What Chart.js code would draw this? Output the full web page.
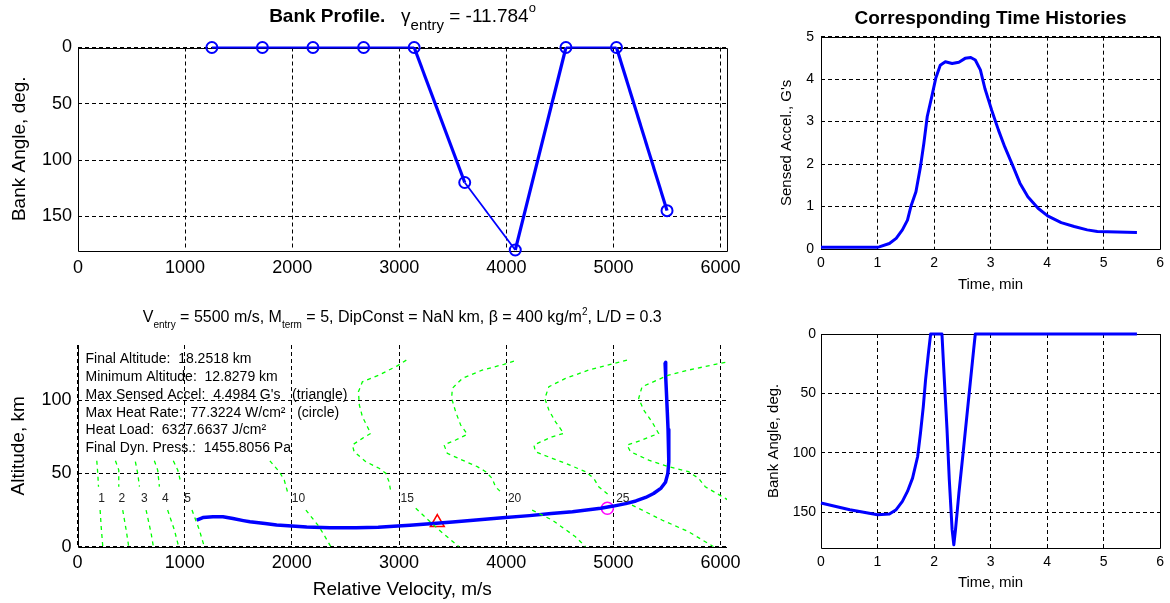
<!DOCTYPE html>
<html>
<head>
<meta charset="utf-8">
<title>Bank Profile</title>
<script src="https://cdn.jsdelivr.net/npm/chart.js@4.4.1/dist/chart.umd.min.js"></script>
<style>
  body { margin: 0; background: #fff; }
  #wrap { position: relative; width: 1170px; height: 603px; }
  #wrap canvas { position: absolute; left: 0; top: 0; }
</style>
</head>
<body>
<div id="wrap">
  <canvas id="bankProfile" width="1170" height="603"></canvas>
  <canvas id="altitude" width="1170" height="603"></canvas>
  <canvas id="accel" width="1170" height="603"></canvas>
  <canvas id="bankTime" width="1170" height="603"></canvas>
</div>
<script>
// ---- data ----
const velTicks = [0, 1000, 2000, 3000, 4000, 5000, 6000];
const bankTicks = [0, 50, 100, 150];
const altTicks = [0, 50, 100];
const timeTicks = [0, 1, 2, 3, 4, 5, 6];
const accelTicks = [0, 1, 2, 3, 4, 5];

// bank profile nodes
const bankVel = [1250, 1722, 2194, 2667, 3139, 3611, 4083, 4556, 5028, 5500];
const bankDeg = [0, 0, 0, 0, 0, 120, 180, 0, 0, 145];

// trajectory, entry -> end
const trajVel = [5482, 5488, 5495, 5503, 5510, 5518, 5516, 5508, 5486, 5445, 5375, 5301, 5210, 5115, 5000, 4882,
  4750, 4618, 4420, 4217, 3966, 3720, 3500, 3349, 3102, 2950, 2806, 2600, 2355, 2138, 2000, 1858, 1750, 1609,
  1547, 1450, 1357, 1264, 1170, 1112];
const trajAlt = [125.8, 116, 105, 92, 80, 68, 58, 50, 44, 40, 36.3, 33.6, 31.2, 29.4, 27.7, 26.2,
  25, 23.9, 22.6, 21.2, 19.8, 18.2, 16.9, 16.0, 14.7, 13.9, 13.3, 13.0, 13.0, 13.4, 14.2, 14.8, 15.8, 17.0,
  17.8, 19.2, 20.4, 20.5, 19.9, 18.2];
const maxAccelPoint = [3357, 16.5];
const maxHeatPoint = [4944, 26.2];

// constant Mach lines [velocity, altitude], null = gap at the label
const mach1 = [[180, 58.6], [189, 50], [196, 40.9], null, [211, 25], [221, 13.6], [236, 0]];
const mach2 = [[354, 58.6], [385, 52.3], [385, 40.9], null, [422, 25], [454, 11.4], [478, 0]];
const mach3 = [[540, 58], [562, 50], [578, 41], null, [640, 25], [687, 9.1], [708, 0]];
const mach4 = [[717, 58.6], [748, 52.3], [764, 41], null, [841, 25], [904, 11.4], [944, 0]];
const mach5 = [[894, 58.6], [935, 52.3], [966, 43.2], null, [1068, 25], [1137, 11.4], [1183, 0]];
const mach10 = [[1795, 58.6], [1882, 51.2], [1929, 45.5], [1959, 37.5], null, [2131, 25], [2255, 13.6], [2364, 0]];
const mach15 = [[3068, 127.3], [2984, 123.4], [2814, 117.1], [2658, 112.5], [2621, 105.7], [2630, 96.6],
  [2658, 88.7], [2736, 77.3], [2658, 73.9], [2565, 69.4], [2581, 64.8], [2690, 58], [2814, 53.5], [2876, 50.1],
  [2907, 44.3], [2923, 37.5], null, [3156, 26.2], [3373, 11.4], [3559, 0]];
const mach20 = [[4072, 126.6], [3978, 124.4], [3776, 120.5], [3590, 114.8], [3497, 108], [3491, 101.2],
  [3528, 92.1], [3575, 83], [3637, 76.7], [3528, 72.8], [3420, 69.4], [3450, 63.7], [3590, 59.1], [3730, 54.6],
  [3808, 51.2], [3869, 46.6], [3900, 40.9], [3962, 36.4], null, [4242, 25], [4428, 18.2], [4646, 6.8], [4740, 0]];
const mach25 = [[5127, 127.3], [4972, 124.4], [4770, 120.5], [4553, 114.8], [4398, 109.1], [4360, 101.2],
  [4398, 93.2], [4460, 85.2], [4537, 77.3], [4429, 75], [4258, 69.4], [4273, 64.8], [4429, 60.3], [4553, 56.9],
  [4739, 51.2], [4817, 46.6], [4863, 40.9], [4957, 35.3], null, [5174, 28.4], [5453, 18.2], [5702, 10.2], [5935, 0]];
const mach30 = [[6044, 125.8], [5951, 124.4], [5702, 120.5], [5516, 117.1], [5267, 109.1], [5236, 101.2],
  [5283, 93.2], [5360, 85.2], [5422, 77.3], [5267, 72.8], [5127, 69.4], [5159, 64.8], [5329, 59.1], [5516, 54.6],
  [5702, 51.2], [5795, 46.6], [5857, 40.9], [6044, 33], [6200, 26]];
const machNames = ['1', '2', '3', '4', '5', '10', '15', '20', '25'];
const machLabelVel = [224, 413, 624, 820, 1028, 2062, 3077, 4078, 5088];
const machLabelAlt = 33;

const summaryLines = [
  'Final Altitude:  18.2518 km',
  'Minimum Altitude:  12.8279 km',
  "Max Sensed Accel:  4.4984 G's   (triangle)",
  'Max Heat Rate:  77.3224 W/cm\u00b2   (circle)',
  'Heat Load:  6327.6637 J/cm\u00b2',
  'Final Dyn. Press.:  1455.8056 Pa'
];
const summaryAlt = [128.2, 116.0, 103.7, 91.4, 79.3, 67.1];

// time histories
const accelTime = [0, 0.5, 1.0, 1.03, 1.21, 1.33, 1.44, 1.53, 1.59, 1.68, 1.76, 1.82, 1.88, 1.96, 2.03, 2.11,
  2.2, 2.32, 2.44, 2.55, 2.65, 2.73, 2.82, 2.9, 3.02, 3.14, 3.25, 3.4, 3.52, 3.66, 3.84, 4.01, 4.25, 4.48,
  4.71, 4.89, 5.59];
const accelG = [0.04, 0.04, 0.04, 0.05, 0.13, 0.25, 0.45, 0.68, 1.0, 1.35, 1.94, 2.49, 3.12, 3.59, 4.02, 4.33,
  4.41, 4.37, 4.4, 4.49, 4.51, 4.45, 4.22, 3.78, 3.27, 2.8, 2.41, 1.94, 1.55, 1.23, 0.96, 0.78, 0.62, 0.53,
  0.45, 0.41, 0.39];
const bankTimeT = [0, 0.51, 1.0, 1.21, 1.33, 1.44, 1.53, 1.62, 1.71, 1.76, 1.81, 1.85, 1.9, 1.94, 2.14, 2.17,
  2.23, 2.27, 2.32, 2.35, 2.38, 2.44, 2.52, 2.61, 2.7, 2.73, 5.59];
const bankTimeDeg = [142.4, 148, 152.2, 151.7, 148, 141, 132.6, 121.4, 103.2, 83.5, 61.1, 38.7, 16.3, 0, 0, 27.5,
  80.7, 122.8, 164.8, 177.5, 164.8, 134, 97.6, 55.5, 13.5, 0, 0];

// ---- helpers ----
const FONT = "'Liberation Sans', Arial, Helvetica, sans-serif";
Chart.defaults.font.family = FONT;
Chart.defaults.color = '#000';
Chart.defaults.animation = false;

const BLUE = '#0000ff';
const toXY = (xs, ys) => xs.map((x, i) => ({ x: x, y: ys[i] }));
const pairs = list => list.map(p => (p ? { x: p[0], y: p[1] } : { x: null, y: null }));

function axis(o) {
  return {
    type: 'linear',
    position: o.position,
    min: o.min,
    max: o.max,
    reverse: !!o.reverse,
    afterBuildTicks: scale => { scale.ticks = o.ticks.map(v => ({ value: v })); },
    afterFit: scale => {
      if (o.position === 'left') scale.width = o.size; else scale.height = o.size;
    },
    ticks: { font: { size: o.tickSize }, padding: o.pad, maxRotation: 0, autoSkip: false, callback: v => String(v) },
    grid: { color: '#000', lineWidth: 1, drawTicks: false },
    border: { display: false, dash: [4, 3] },
    title: o.title ? { display: true, text: o.title, font: { size: o.titleSize }, padding: 0 } : { display: false }
  };
}

// rich text with sub/superscripts
function drawRich(ctx, parts, cx, cy) {
  let total = 0;
  parts.forEach(p => { ctx.font = p.font; p.w = ctx.measureText(p.text).width; total += p.w; });
  let x = cx - total / 2;
  ctx.textAlign = 'left';
  ctx.textBaseline = 'middle';
  parts.forEach(p => { ctx.font = p.font; ctx.fillText(p.text, x, cy + (p.dy || 0)); x += p.w; });
}

const extras = {};

const matlabLook = {
  id: 'matlabLook',
  beforeDatasetsDraw(chart) {
    const ex = extras[chart.canvas.id];
    if (!ex) return;
    const { ctx, chartArea: a } = chart;
    ctx.save();
    ctx.setLineDash([]);
    ctx.strokeStyle = '#000';
    ctx.lineWidth = 1;
    ctx.beginPath();
    if (ex.box) {
      ctx.rect(Math.round(a.left) + 0.5, Math.round(a.top) + 0.5, Math.round(a.width), Math.round(a.height));
    } else {
      ctx.moveTo(Math.round(a.left) + 0.5, a.top);
      ctx.lineTo(Math.round(a.left) + 0.5, Math.round(a.bottom) + 0.5);
      ctx.lineTo(a.right, Math.round(a.bottom) + 0.5);
    }
    ctx.stroke();
    ctx.restore();
  },
  afterDraw(chart) {
    const ex = extras[chart.canvas.id];
    if (!ex) return;
    const { ctx, chartArea: a, scales } = chart;
    ctx.save();
    ctx.fillStyle = '#000';
    if (ex.title) drawRich(ctx, ex.title, (a.left + a.right) / 2, a.top - ex.titleGap);
    if (ex.labels) {
      ctx.font = '12px ' + FONT;
      ctx.fillStyle = '#222';
      ctx.textAlign = 'center';
      ctx.textBaseline = 'middle';
      ex.labels.forEach((t, i) => {
        ctx.fillText(t, scales.x.getPixelForValue(machLabelVel[i]), scales.y.getPixelForValue(machLabelAlt));
      });
    }
    if (ex.notes) {
      ctx.font = '14px ' + FONT;
      ctx.fillStyle = '#000';
      ctx.textAlign = 'left';
      ctx.textBaseline = 'middle';
      ex.notes.forEach((t, i) => {
        ctx.fillText(t, scales.x.getPixelForValue(75), scales.y.getPixelForValue(summaryAlt[i]));
      });
    }
    ctx.restore();
  }
};
Chart.register(matlabLook);

const basePlugins = { legend: { display: false }, tooltip: { enabled: false } };

// ---- 1. bank profile vs velocity ----
extras.bankProfile = {
  box: true,
  titleGap: 31,
  title: [
    { text: 'Bank Profile.', font: 'bold 19px ' + FONT },
    { text: '   \u03b3', font: '19px ' + FONT },
    { text: 'entry', font: '15px ' + FONT, dy: 9 },
    { text: ' = -11.784', font: '19px ' + FONT },
    { text: 'o', font: '13px ' + FONT, dy: -8 }
  ]
};
new Chart(document.getElementById('bankProfile'), {
  type: 'scatter',
  data: {
    datasets: [{
      data: toXY(bankVel, bankDeg),
      showLine: true,
      clip: false,
      borderColor: BLUE,
      borderWidth: 2,
      borderJoinStyle: 'round',
      segment: { borderWidth: c => ([4, 6, 8].includes(c.p0DataIndex) ? 3.2 : 1.8) },
      pointRadius: 5.5,
      pointBorderWidth: 2,
      pointBorderColor: BLUE,
      pointBackgroundColor: 'rgba(0,0,0,0)'
    }]
  },
  options: {
    responsive: false,
    layout: { autoPadding: false, padding: { left: 8, top: 47.5, right: 443, bottom: 313 } },
    plugins: basePlugins,
    scales: {
      x: axis({ position: 'bottom', min: 0, max: 6060, ticks: velTicks, size: 40, tickSize: 18, pad: 7 }),
      y: axis({ position: 'left', min: 0, max: 180, reverse: true, ticks: bankTicks, size: 70, tickSize: 18, pad: 6,
        title: 'Bank Angle, deg.', titleSize: 19 })
    }
  }
});

// ---- 2. altitude vs velocity ----
extras.altitude = {
  box: false,
  titleGap: 27,
  title: [
    { text: 'V', font: '16px ' + FONT },
    { text: 'entry', font: '10px ' + FONT, dy: 7 },
    { text: ' = 5500 m/s, M', font: '16px ' + FONT },
    { text: 'term', font: '10px ' + FONT, dy: 7 },
    { text: ' = 5, DipConst = NaN km, \u03b2 = 400 kg/m', font: '16px ' + FONT },
    { text: '2', font: '10px ' + FONT, dy: -6 },
    { text: ', L/D = 0.3', font: '16px ' + FONT }
  ],
  labels: machNames,
  notes: summaryLines
};
const machStyle = { showLine: true, borderColor: '#00ff00', borderWidth: 1.3, borderDash: [4, 4], pointRadius: 0, spanGaps: false };
new Chart(document.getElementById('altitude'), {
  type: 'scatter',
  data: {
    datasets: [
      Object.assign({ data: pairs(mach1) }, machStyle),
      Object.assign({ data: pairs(mach2) }, machStyle),
      Object.assign({ data: pairs(mach3) }, machStyle),
      Object.assign({ data: pairs(mach4) }, machStyle),
      Object.assign({ data: pairs(mach5) }, machStyle),
      Object.assign({ data: pairs(mach10) }, machStyle),
      Object.assign({ data: pairs(mach15) }, machStyle),
      Object.assign({ data: pairs(mach20) }, machStyle),
      Object.assign({ data: pairs(mach25) }, machStyle),
      Object.assign({ data: pairs(mach30) }, machStyle),
      { data: toXY(trajVel, trajAlt), showLine: true, borderColor: BLUE, borderWidth: 3.5, borderJoinStyle: 'round', pointRadius: 0 },
      { data: [{ x: maxAccelPoint[0], y: maxAccelPoint[1] }], pointStyle: 'triangle', pointRadius: 8,
        pointBorderColor: '#ff0000', pointBorderWidth: 1.5, pointBackgroundColor: 'rgba(0,0,0,0)' },
      { data: [{ x: maxHeatPoint[0], y: maxHeatPoint[1] }], pointStyle: 'circle', pointRadius: 6,
        pointBorderColor: '#ff00ff', pointBorderWidth: 1.5, pointBackgroundColor: 'rgba(0,0,0,0)' }
    ]
  },
  options: {
    responsive: false,
    layout: { autoPadding: false, padding: { left: 7.5, top: 345, right: 443, bottom: 2 } },
    plugins: basePlugins,
    scales: {
      x: axis({ position: 'bottom', min: 0, max: 6060, ticks: velTicks, size: 54.3, tickSize: 18, pad: 6,
        title: 'Relative Velocity, m/s', titleSize: 19 }),
      y: axis({ position: 'left', min: 0, max: 137.6, ticks: altTicks, size: 70, tickSize: 18, pad: 6,
        title: 'Altitude, km', titleSize: 19 })
    }
  }
});

// ---- 3. sensed acceleration vs time ----
extras.accel = {
  box: true,
  titleGap: 18.4,
  title: [{ text: 'Corresponding Time Histories', font: 'bold 19px ' + FONT }]
};
new Chart(document.getElementById('accel'), {
  type: 'scatter',
  data: {
    datasets: [{ data: toXY(accelTime, accelG), showLine: true, clip: 4, borderColor: BLUE, borderWidth: 3,
      borderJoinStyle: 'round', pointRadius: 0 }]
  },
  options: {
    responsive: false,
    layout: { autoPadding: false, padding: { left: 778, top: 36.7, right: 6.7, bottom: 309 } },
    plugins: basePlugins,
    scales: {
      x: axis({ position: 'bottom', min: 0, max: 6, ticks: timeTicks, size: 45, tickSize: 14, pad: 6,
        title: 'Time, min', titleSize: 15 }),
      y: axis({ position: 'left', min: 0, max: 5, ticks: accelTicks, size: 43, tickSize: 14, pad: 7,
        title: "Sensed Accel., G's", titleSize: 15 })
    }
  }
});

// ---- 4. bank angle vs time ----
extras.bankTime = { box: true };
new Chart(document.getElementById('bankTime'), {
  type: 'scatter',
  data: {
    datasets: [{ data: toXY(bankTimeT, bankTimeDeg), showLine: true, clip: false, borderColor: BLUE, borderWidth: 3,
      borderJoinStyle: 'round', pointRadius: 0 }]
  },
  options: {
    responsive: false,
    layout: { autoPadding: false, padding: { left: 765, top: 334, right: 6.7, bottom: 11.3 } },
    plugins: basePlugins,
    scales: {
      x: axis({ position: 'bottom', min: 0, max: 6, ticks: timeTicks, size: 44, tickSize: 14, pad: 6,
        title: 'Time, min', titleSize: 15 }),
      y: axis({ position: 'left', min: 0, max: 180, reverse: true, ticks: bankTicks, size: 56, tickSize: 14, pad: 5,
        title: 'Bank Angle, deg.', titleSize: 15 })
    }
  }
});
</script>
</body>
</html>
